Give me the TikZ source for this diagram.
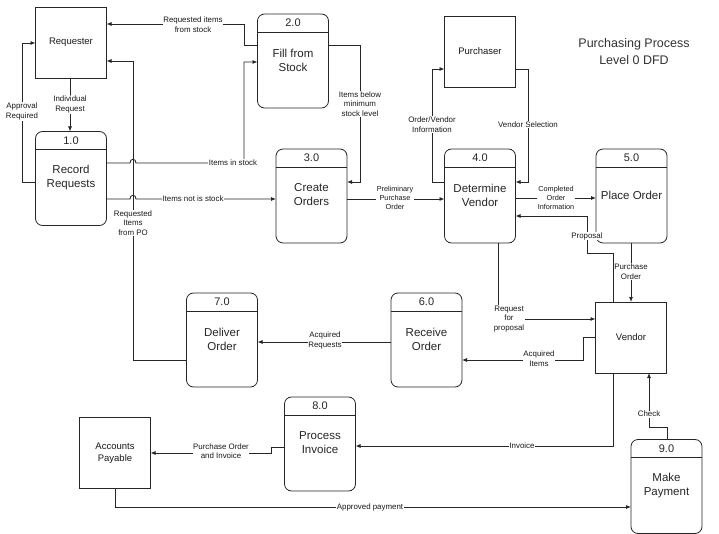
\documentclass[tikz,border=0pt]{standalone}
\usepackage{fontspec}
\setmainfont{Liberation Sans}
\usetikzlibrary{arrows.meta,calc}
\newcommand\procinfo[3]{%
  \draw[line] ([yshift=-18pt]#1.north west) -- ([yshift=-18pt]#1.north east);
  \node[pnum] at ([yshift=-9pt]#1.north) {#2};
  \node[pname] at ([yshift=-46pt]#1.north) {#3};
}
\begin{document}
\begin{tikzpicture}[x=1pt,y=-1pt,
  line/.style={draw=black!85, line width=0.8pt},
  arr/.style={line, -{Latex[length=5pt,width=4pt]}},
  lbl/.style={fill=white, inner sep=0.6pt, font=\fontsize{7.9}{9.5}\selectfont, align=center, text=black!90},
  ent/.style={draw=black!85, line width=0.8pt, outer sep=0pt, minimum width=71pt, minimum height=71pt, inner sep=0pt, font=\fontsize{9.5}{12}\selectfont, align=center, text=black!90},
  proc/.style={draw=black!85, line width=0.8pt, outer sep=0pt, rounded corners=7pt, minimum width=71pt, minimum height=94pt, inner sep=0pt},
  pname/.style={font=\fontsize{11.5}{14}\selectfont, align=center, text=black!85},
  pnum/.style={font=\fontsize{11}{12}\selectfont, text=black!85},
]
\useasboundingbox[fill=white] (0,0) rectangle (719,534);

% external entities
\node[ent] (req) at (71,42.5) {Requester};
\node[ent] (pur) at (480,51.5) {Purchaser};
\node[ent] (ven) at (631,337.5) {Vendor};
\node[ent] (ap) at (115,453) {Accounts\\Payable};

% processes
\node[proc] (p1) at (71,178.5) {};
\procinfo{p1}{1.0}{Record\\Requests}
\node[proc] (p2) at (293,61) {};
\procinfo{p2}{2.0}{Fill from\\Stock}
\node[proc] (p3) at (311.5,196) {};
\procinfo{p3}{3.0}{Create\\Orders}
\node[proc] (p4) at (480,196) {};
\procinfo{p4}{4.0}{Determine\\Vendor}
\node[proc] (p5) at (631.5,196) {};
\procinfo{p5}{5.0}{Place Order}
\node[proc] (p6) at (426.5,340) {};
\procinfo{p6}{6.0}{Receive\\Order}
\node[proc] (p7) at (222,340) {};
\procinfo{p7}{7.0}{Deliver\\Order}
\node[proc] (p8) at (320,444) {};
\procinfo{p8}{8.0}{Process\\Invoice}
\node[proc] (p9) at (666.5,486.5) {};
\procinfo{p9}{9.0}{Make\\Payment}

% title
\node[font=\fontsize{12.5}{17}\selectfont, align=center, text=black!80] (title) at (634,51.5) {Purchasing Process\\Level 0 DFD};

% flows
\draw[arr] (p2.west |- 0,45) -- (244,45) -- (244,24) -- (req.east |- 0,24);
\node[lbl] at (193,24.5) {Requested items\\from stock};

\draw[arr] (req.south -| 70,0) -- (p1.north -| 70,0);
\node[lbl] at (70,104.5) {Individual\\Request};

\draw[arr] (p1.west |- 0,182) -- (22,182) -- (22,43) -- (req.west |- 0,43);
\node[lbl] at (22,111.5) {Approval\\Required};

\draw[arr] (133,360) -- (133,61) -- (req.east |- 0,61);
\draw[line] (p7.west |- 0,360) -- (133,360);
\node[lbl] at (133,223) {Requested\\Items\\from PO};

\draw[arr] (p1.east |- 0,163) -- (130,163) .. controls (130,158) and (136,158) .. (136,163) -- (244,163) -- (244,62) -- (p2.west |- 0,62);
\node[lbl] at (233,163) {Items in stock};

\draw[arr] (p1.east |- 0,199) -- (130,199) .. controls (130,194) and (136,194) .. (136,199) -- (p3.west |- 0,199);
\node[lbl] at (193,199) {Items not is stock};

\draw[arr] (p2.east |- 0,45) -- (360,45) -- (360,182) -- (p3.east |- 0,182);
\node[lbl] at (360,104) {Items below\\minimum\\stock level};

\draw[arr] (p3.east |- 0,199) -- (p4.west |- 0,199);
\node[lbl, font=\fontsize{7.3}{8.8}\selectfont] at (395,198) {Preliminary\\Purchase\\Order};

\draw[arr] (p4.west |- 0,182) -- (432,182) -- (432,69) -- (pur.west |- 0,69);
\node[lbl] at (432,124.5) {Order/Vendor\\Information};

\draw[arr] (pur.east |- 0,69) -- (528,69) -- (528,182) -- (p4.east |- 0,182);
\node[lbl] at (528,125) {Vendor Selection};

\draw[arr] (p4.east |- 0,198) -- (p5.west |- 0,198);
\node[lbl, font=\fontsize{7.3}{8.8}\selectfont] at (556,198) {Completed\\Order\\Information};

\draw[arr] (ven.north -| 613,0) -- (613,253) -- (587,253) -- (587,216) -- (p4.east |- 0,216);
\node[lbl] at (587,236) {Proposal};

\draw[arr] (p5.south -| 631,0) -- (ven.north -| 631,0);
\node[lbl] at (631,271.5) {Purchase\\Order};

\draw[arr] (p4.south -| 498,0) -- (498,319) -- (ven.west |- 0,319);
\node[lbl] at (509,319) {Request\\for\\proposal};

\draw[arr] (ven.west |- 0,337) -- (583,337) -- (583,360) -- (p6.east |- 0,360);
\node[lbl] at (539,358.5) {Acquired\\Items};

\draw[arr] (p6.west |- 0,342) -- (p7.east |- 0,342);
\node[lbl] at (325,340.5) {Acquired\\Requests};

\draw[arr] (ven.south -| 613,0) -- (613,446) -- (p8.east |- 0,446);
\node[lbl] at (522,446) {Invoice};

\draw[arr] (p8.west |- 0,447) -- (271,447) -- (271,453) -- (ap.east |- 0,453);
\node[lbl] at (221,451) {Purchase Order\\and Invoice};

\draw[arr] (p9.north -| 667,0) -- (667,427) -- (649,427) -- (ven.south -| 649,0);
\node[lbl] at (649,414) {Check};

\draw[arr] (ap.south) -- (ap.south |- 0,507) -- (p9.west |- 0,507);
\node[lbl] at (370,507) {Approved payment};
\end{tikzpicture}
\end{document}
